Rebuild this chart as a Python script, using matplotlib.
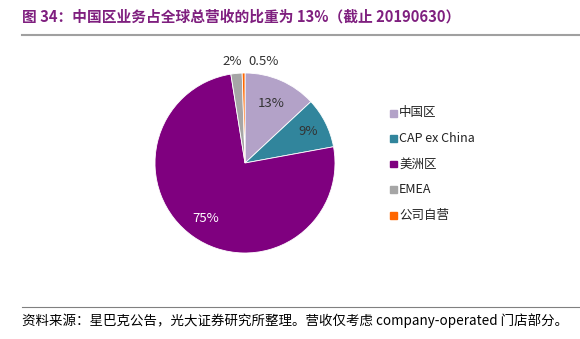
import numpy as np
import matplotlib
matplotlib.use("Agg")
import matplotlib.pyplot as plt
from matplotlib.patches import Rectangle
from matplotlib.lines import Line2D

plt.rcParams['font.family'] = ['Noto Sans CJK SC', 'DejaVu Sans']

categories = ["中国区", "CAP ex China", "美洲区", "EMEA", "公司自营"]
values = [13, 9, 75, 2, 0.5]
value_labels = ["13%", "9%", "75%", "2%", "0.5%"]
colors = ["#B3A2C8", "#31859C", "#7F007F", "#A6A6A6", "#FF6600"]
label_colors = ["#333333", "#333333", "#FFFFFF", "#333333", "#333333"]
label_r = [0.72, 0.78, 0.76, 1.13, 1.13]
label_dx = [0.0, 0.0, 0.0, -0.04, 0.22]

title = "图 34：中国区业务占全球总营收的比重为 13%（截止 20190630）"
footnote = "资料来源：星巴克公告，光大证券研究所整理。营收仅考虑 company-operated 门店部分。"

W, H = 580, 339
fig = plt.figure(figsize=(W / 100, H / 100), dpi=100)

# title and rules
fig.text(22 / W, 1 - 17 / H, title, fontsize=10.6, fontweight='bold', color='#7F1F7F',
         va='center', ha='left')
fig.add_artist(Line2D([22 / W, 1.0], [1 - 35 / H, 1 - 35 / H], color='#A0A0A0', lw=1.5))
fig.add_artist(Line2D([22 / W, 1.0], [1 - 307 / H, 1 - 307 / H], color='#808080', lw=0.8))
fig.text(22 / W, 1 - 321 / H, footnote, fontsize=9.7, color='black', va='center', ha='left')

# pie
cx, cy, r = 245, 163, 90
ax = fig.add_axes([(cx - r) / W, 1 - (cy + r) / H, 2 * r / W, 2 * r / H])
wedges, _ = ax.pie(values, colors=colors, startangle=90, counterclock=False,
                   wedgeprops=dict(edgecolor='white', linewidth=0.6))
ax.set_xlim(-1, 1)
ax.set_ylim(-1, 1)
ax.set_aspect('auto')
for w, lab, lr, dx, lc in zip(wedges, value_labels, label_r, label_dx, label_colors):
    th = np.deg2rad((w.theta1 + w.theta2) / 2)
    ax.text(lr * np.cos(th) + dx, lr * np.sin(th), lab, ha='center', va='center',
            fontsize=9.5, color=lc, clip_on=False)

# legend
lx, ly0, dy = 390, 113, 25.5
for i, (cat, col) in enumerate(zip(categories, colors)):
    y = ly0 + i * dy
    fig.add_artist(Rectangle((lx / W, 1 - (y + 3.5) / H), 7 / W, 7 / H,
                             transform=fig.transFigure, color=col))
    fig.text((lx + 9) / W, 1 - y / H, cat, fontsize=9, color='#222222',
             va='center', ha='left')

fig.savefig("out.png", dpi=100)
